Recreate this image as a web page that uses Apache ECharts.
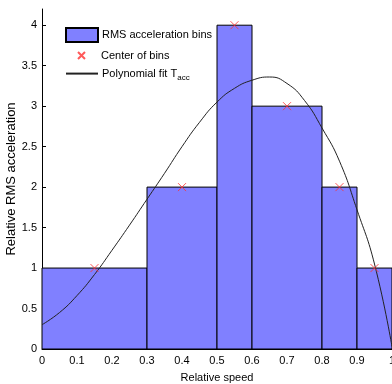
<!DOCTYPE html>
<html>
<head>
  <meta charset="utf-8">
  <title>Relative RMS acceleration</title>
  <script src="https://cdn.jsdelivr.net/npm/echarts@6/dist/echarts.min.js"></script>
</head>
<body style="margin:0">
  <div id="main" style="width:392px;height:384px;"></div>
  <script type="text/javascript">
    // histogram bins: left edge, right edge, height
    var binStart = [0, 0.3, 0.5, 0.6, 0.8, 0.9];
    var binEnd = [0.3, 0.5, 0.6, 0.8, 0.9, 1.0];
    var binHeight = [1, 2, 4, 3, 2, 1];
    // bin centers
    var centerX = [0.15, 0.4, 0.55, 0.7, 0.85, 0.95];
    var centerY = [1, 2, 4, 3, 2, 1];
    // polynomial fit
    var fitX = [0, 0.05, 0.1, 0.15, 0.2, 0.25, 0.3, 0.35, 0.4, 0.45, 0.5, 0.55, 0.6, 0.65, 0.7, 0.75, 0.8, 0.85, 0.9, 0.95, 1.0];
    var fitY = [0.30, 0.45, 0.66, 0.92, 1.22, 1.53, 1.85, 2.17, 2.50, 2.80, 3.05, 3.22, 3.32, 3.36, 3.28, 3.07, 2.73, 2.32, 1.72, 1.05, 0.03];
    var yTicks = [0, 0.5, 1, 1.5, 2, 2.5, 3, 3.5, 4];

    var font = 'Liberation Sans';
    var myChart = echarts.init(document.getElementById('main'));

    myChart.setOption({
      animation: false,
      grid: { left: 42, right: 0, top: 9, bottom: 35, outerBoundsMode: 'none', containLabel: false },
      legend: [{
        data: [{ name: 'RMS acceleration bins', icon: 'rect' }],
        left: 60, top: 22, itemWidth: 32, itemHeight: 14,
        textStyle: { fontFamily: font, fontSize: 11, color: '#000', padding: [0, 0, 0, -1] }
      }, {
        data: ['Center of bins'],
        left: 72, top: 45, itemWidth: 7, itemHeight: 7,
        textStyle: { fontFamily: font, fontSize: 11, color: '#000', padding: [0, 0, 0, 11] }
      }, {
        data: ['Polynomial fit T_acc'],
        left: 60, top: 63, itemWidth: 32, itemHeight: 14,
        itemStyle: { opacity: 0 },
        formatter: function (name) { return 'Polynomial fit T{sub|acc}'; },
        textStyle: {
          fontFamily: font, fontSize: 11, color: '#000', padding: [0, 0, 0, -1],
          rich: { sub: { fontFamily: font, fontSize: 8, color: '#000', padding: [9, 0, 0, 0] } }
        }
      }],
      xAxis: {
        type: 'value', min: 0, max: 1, interval: 0.1,
        name: 'Relative speed', nameLocation: 'middle', nameGap: 23, nameMoveOverlap: false,
        nameTextStyle: { fontFamily: font, fontSize: 11, color: '#000' },
        axisLine: { lineStyle: { color: '#000' } },
        axisTick: { inside: true, length: 4, lineStyle: { color: '#000' } },
        axisLabel: { fontFamily: font, fontSize: 11, color: '#000', margin: 6 },
        splitLine: { show: false }
      },
      yAxis: {
        type: 'value', min: 0, max: 4.2,
        name: 'Relative RMS acceleration', nameLocation: 'middle', nameGap: 24, nameMoveOverlap: false,
        nameTextStyle: { fontFamily: font, fontSize: 13, color: '#000' },
        axisLine: { show: true, lineStyle: { color: '#000' } },
        axisTick: { inside: true, length: 4, customValues: yTicks, lineStyle: { color: '#000' } },
        axisLabel: { fontFamily: font, fontSize: 11, color: '#000', margin: 5, customValues: yTicks },
        splitLine: { show: false }
      },
      series: [{
        name: 'RMS acceleration bins',
        type: 'custom',
        itemStyle: { color: '#8080ff', borderColor: '#000', borderWidth: 1 },
        renderItem: function (params, api) {
          var p0 = api.coord([api.value(0), api.value(2)]);
          var p1 = api.coord([api.value(1), 0]);
          return {
            type: 'rect',
            shape: { x: p0[0], y: p0[1], width: p1[0] - p0[0], height: p1[1] - p0[1] },
            style: { fill: '#8080ff', stroke: '#000', lineWidth: 1 }
          };
        },
        encode: { x: [0, 1], y: 2 },
        data: binStart.map(function (s, i) { return [s, binEnd[i], binHeight[i]]; })
      }, {
        name: 'Center of bins',
        type: 'scatter',
        symbol: 'path://M0,0L10,10M10,0L0,10',
        symbolSize: 8,
        itemStyle: { color: 'rgba(0,0,0,0)', borderColor: '#ff3030', borderWidth: 1 },
        z: 5,
        data: centerX.map(function (x, i) { return [x, centerY[i]]; })
      }, {
        name: 'Polynomial fit T_acc',
        type: 'line',
        smooth: true,
        symbol: 'none',
        lineStyle: { color: '#222', width: 1 },
        itemStyle: { color: '#222' },
        z: 4,
        data: fitX.map(function (x, i) { return [x, fitY[i]]; })
      }]
    });
  </script>
</body>
</html>
